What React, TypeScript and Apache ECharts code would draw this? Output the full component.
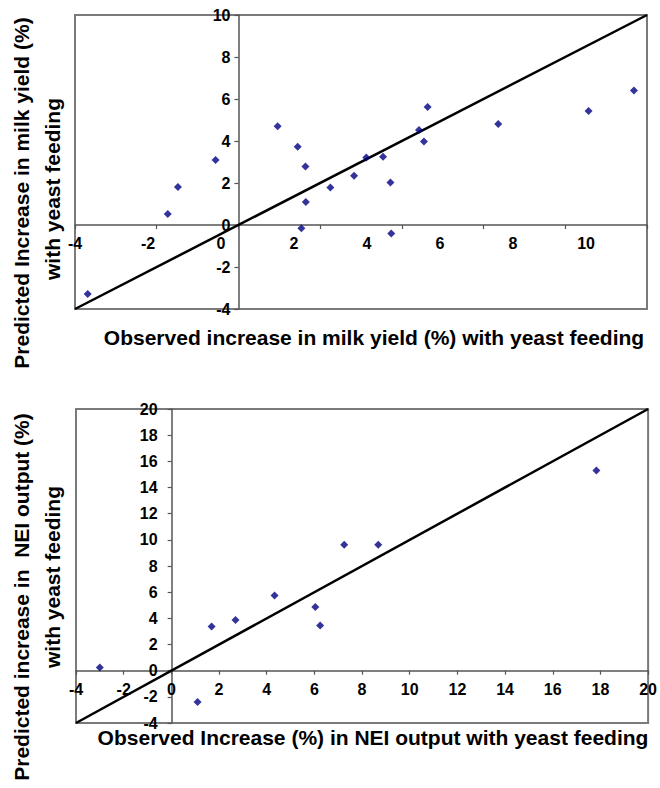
import React, { useEffect, useRef } from "react";
import * as echarts from "echarts";

// Top chart: milk yield (%)
const milkObserved = [-3.69, -1.73, -1.48, -0.56, 0.96, 1.45, 1.64, 1.65, 1.54, 2.25, 2.83, 3.13, 3.54, 3.72, 3.74, 4.42, 4.54, 4.63, 6.36, 8.57, 9.68];
const milkPredicted = [-3.29, 0.52, 1.81, 3.10, 4.70, 3.73, 2.78, 1.10, -0.16, 1.78, 2.35, 3.22, 3.25, 2.02, -0.40, 4.52, 3.98, 5.62, 4.81, 5.43, 6.40];
const milkLine = [[-4, -4], [10, 10]];
const milkXTickLabels = [-4, -2, 0, 2, 4, 6, 8, 10];
const milkYTickLabels = [-4, -2, 0, 2, 4, 6, 8, 10];
const milkXLabelSpanMax = 11.67; // labels in the original are spread wider than the ticks

// Bottom chart: NEl output (%)
const neiObserved = [-3.0, 1.10, 1.69, 2.69, 4.33, 6.04, 6.24, 7.25, 8.68, 17.83];
const neiPredicted = [0.25, -2.39, 3.38, 3.87, 5.75, 4.86, 3.46, 9.62, 9.62, 15.29];
const neiLine = [[-4, -4], [20, 20]];
const neiTickLabels = [-4, -2, 0, 2, 4, 6, 8, 10, 12, 14, 16, 18, 20];

const topYName1 = "Predicted Increase in milk yield (%)";
const topYName2 = "with yeast feeding";
const topXName = "Observed increase in milk yield (%) with yeast feeding";
const botYName1 = "Predicted increase in  NEI output (%)";
const botYName2 = "with yeast feeding";
const botXName = "Observed Increase (%) in NEI output with yeast feeding";

const FONT = "Liberation Sans, Arial, sans-serif";

export default function App() {
  const ref = useRef<HTMLDivElement>(null);
  useEffect(() => {
    if (!ref.current) return;
    const chart = echarts.init(ref.current, null, { renderer: "svg" });
    const tickLabelStyle = { color: "#000", fontWeight: "bold" as const, fontSize: 16, fontFamily: FONT };
    const axisLine = { show: true, onZero: false, lineStyle: { color: "#555", width: 1.5 } };
    const axisTick = { show: true, inside: false, length: 4, lineStyle: { color: "#555", width: 1.2 } };

    const topX = milkXTickLabels;
    const topY = milkYTickLabels;
    const nx = neiTickLabels;

    const g0 = { left: 75, top: 15, width: 572, height: 294 };
    const g1 = { left: 76, top: 409, width: 574, height: 314 };

    const topXMin = topX[0], topXMax = topX[topX.length - 1];
    const topYMin = topY[0], topYMax = topY[topY.length - 1];
    const nMin = nx[0], nMax = nx[nx.length - 1];

    // place axis lines where the other axis is zero (crossing axes)
    const topXOffset = -((0 - topYMin) / (topYMax - topYMin)) * g0.height;
    const topYOffset = -((0 - topXMin) / (topXMax - topXMin)) * g0.width;
    const botXOffset = -((0 - nMin) / (nMax - nMin)) * g1.height;
    const botYOffset = -((0 - nMin) / (nMax - nMin)) * g1.width;

    const nameFont = `bold 21px ${FONT}`;

    chart.setOption({
      animation: false,
      backgroundColor: "#fff",
      grid: [
        { ...g0, show: true, borderColor: "#7a7a7a", borderWidth: 2 },
        { ...g1, show: true, borderColor: "#7a7a7a", borderWidth: 2 },
      ],
      xAxis: [
        {
          gridIndex: 0, type: "value", min: topXMin, max: topXMax, interval: 2,
          position: "bottom", offset: topXOffset, axisLine, axisTick,
          axisLabel: { show: false }, splitLine: { show: false },
        },
        {
          gridIndex: 0, type: "value", min: topXMin, max: milkXLabelSpanMax, interval: 2,
          position: "bottom", offset: topXOffset, axisLine: { show: false, onZero: false }, axisTick: { show: false },
          axisLabel: { ...tickLabelStyle, margin: 10, showMaxLabel: false, formatter: (v: number) => (topX.includes(v) ? String(v) : "") },
          splitLine: { show: false },
        },
        {
          gridIndex: 1, type: "value", min: nMin, max: nMax, interval: 2,
          position: "bottom", offset: botXOffset, axisLine, axisTick,
          axisLabel: { ...tickLabelStyle, margin: 11 }, splitLine: { show: false },
        },
      ],
      yAxis: [
        {
          gridIndex: 0, type: "value", min: topYMin, max: topYMax, interval: 2,
          position: "left", offset: topYOffset, axisLine, axisTick,
          axisLabel: { ...tickLabelStyle, margin: 8 }, splitLine: { show: false },
        },
        {
          gridIndex: 1, type: "value", min: nMin, max: nMax, interval: 2,
          position: "left", offset: botYOffset, axisLine, axisTick,
          axisLabel: { ...tickLabelStyle, margin: 14 }, splitLine: { show: false },
        },
      ],
      series: [
        {
          type: "line", xAxisIndex: 0, yAxisIndex: 0, data: milkLine, symbol: "none",
          lineStyle: { color: "#000", width: 2.5 }, silent: true, z: 3,
        },
        {
          type: "scatter", xAxisIndex: 0, yAxisIndex: 0,
          data: milkObserved.map((x, i) => [x, milkPredicted[i]]),
          symbol: "diamond", symbolSize: 8, itemStyle: { color: "#000080" }, z: 4,
        },
        {
          type: "line", xAxisIndex: 2, yAxisIndex: 1, data: neiLine, symbol: "none",
          lineStyle: { color: "#000", width: 2.5 }, silent: true, z: 3,
        },
        {
          type: "scatter", xAxisIndex: 2, yAxisIndex: 1,
          data: neiObserved.map((x, i) => [x, neiPredicted[i]]),
          symbol: "diamond", symbolSize: 8, itemStyle: { color: "#000080" }, z: 4,
        },
      ],
      graphic: [
        { type: "text", x: 21, y: 193, rotation: Math.PI / 2, style: { text: topYName1, font: nameFont, fill: "#000", textAlign: "center", textVerticalAlign: "middle" } },
        { type: "text", x: 52, y: 189, rotation: Math.PI / 2, style: { text: topYName2, font: nameFont, fill: "#000", textAlign: "center", textVerticalAlign: "middle" } },
        { type: "text", x: 374, y: 337, style: { text: topXName, font: nameFont, fill: "#000", textAlign: "center", textVerticalAlign: "middle" } },
        { type: "text", x: 21, y: 597, rotation: Math.PI / 2, style: { text: botYName1, font: nameFont, fill: "#000", textAlign: "center", textVerticalAlign: "middle" } },
        { type: "text", x: 52, y: 577, rotation: Math.PI / 2, style: { text: botYName2, font: nameFont, fill: "#000", textAlign: "center", textVerticalAlign: "middle" } },
        { type: "text", x: 373, y: 737, style: { text: botXName, font: nameFont, fill: "#000", textAlign: "center", textVerticalAlign: "middle" } },
      ],
    });
    return () => chart.dispose();
  }, []);
  return <div ref={ref} style={{ position: "fixed", left: 0, top: 0, width: 660, height: 788 }} />;
}
